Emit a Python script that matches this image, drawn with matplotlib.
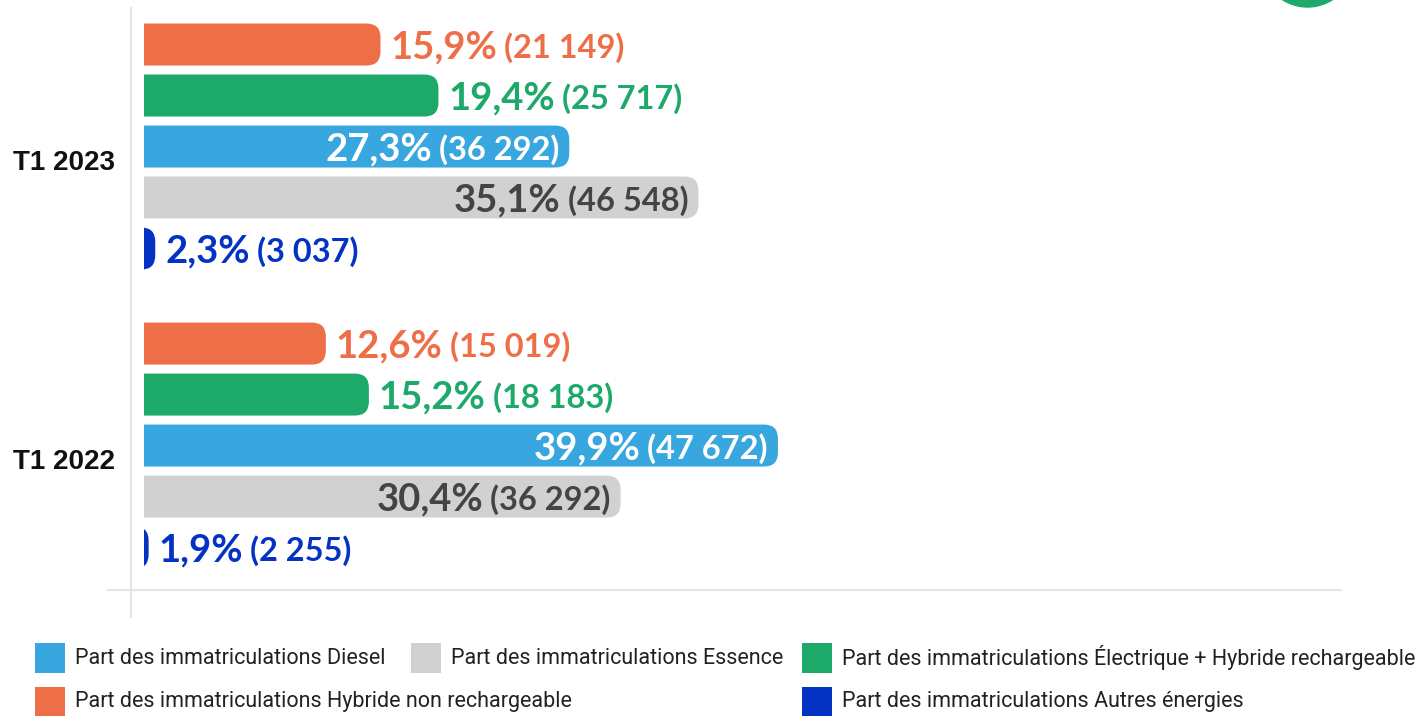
import matplotlib
matplotlib.use("Agg")
import matplotlib.pyplot as plt
import matplotlib.transforms as mtransforms
from matplotlib.patches import FancyBboxPatch, Rectangle, Circle
from matplotlib.lines import Line2D

# ---------------- data ----------------
categories = ["T1 2023", "T1 2022"]
series_names = [
    "Part des immatriculations Hybride non rechargeable",
    "Part des immatriculations Électrique + Hybride rechargeable",
    "Part des immatriculations Diesel",
    "Part des immatriculations Essence",
    "Part des immatriculations Autres énergies",
]
pct_2023 = [15.9, 19.4, 27.3, 35.1, 2.3]
count_2023 = [21149, 25717, 36292, 46548, 3037]
pct_2022 = [12.6, 15.2, 39.9, 30.4, 1.9]
count_2022 = [15019, 18183, 47672, 36292, 2255]

pcts = [pct_2023, pct_2022]
counts = [count_2023, count_2022]

# legend order (as displayed)
legend_order = [2, 3, 1, 0, 4]

# ---------------- style ----------------
bar_colors = ["#EE6F47", "#1DA96A", "#39A7DF", "#D1D1D1", "#0433C3"]
text_colors = ["#EE6F47", "#1DA96A", "#FFFFFF", "#444444", "#0433C3"]
label_inside = [False, False, True, True, False]

W, H = 1416, 716
fig = plt.figure(figsize=(W / 100, H / 100), dpi=100)
ax_left, ax_right, ax_top, ax_bottom = 144, 1340, 0, 590
ax = fig.add_axes([ax_left / W, (H - ax_bottom) / H, (ax_right - ax_left) / W, (ax_bottom - ax_top) / H])
xmin, xmax = 1.62, 73.84
ymin, ymax = -0.49, 1.483
ax.set_xlim(xmin, xmax)
ax.set_ylim(ymax, ymin)
ax.axis("off")

px_per_x = (ax_right - ax_left) / (xmax - xmin)
px_per_y = (ax_bottom - ax_top) / (ymax - ymin)
bar_h = 42 / px_per_y
step = 51 / px_per_y
radius_px = 14
rx = radius_px / px_per_x
aspect = px_per_x / px_per_y

label_font = "Lato"
pct_size = 27.5
cnt_size = 23.5

renderer = fig.canvas.get_renderer()


def place(s, x, y, dx, dy, **kw):
    tr = mtransforms.offset_copy(ax.transData, fig=fig, x=dx, y=dy, units="dots")
    return ax.text(x, y, s, transform=tr, **kw)


baseline_dy = -13.5
for g, cat in enumerate(categories):
    for i in range(len(series_names)):
        p = pcts[g][i]
        c = counts[g][i]
        yc = g + (i - 2) * step
        patch = FancyBboxPatch(
            (0, yc - bar_h / 2), p, bar_h,
            boxstyle=f"round,pad=0,rounding_size={rx}",
            mutation_aspect=aspect,
            facecolor=bar_colors[i], edgecolor="none", clip_on=True,
        )
        ax.add_patch(patch)

        pct_str = f"{p:.1f}%".replace(".", ",")
        cnt_str = "(" + f"{c:,}".replace(",", " ") + ")"
        common = dict(va="baseline", fontweight="bold", family=label_font,
                      color=text_colors[i], clip_on=False)
        if not label_inside[i]:
            t1 = place(pct_str, p, yc, 10, baseline_dy, ha="left", fontsize=pct_size, **common)
            w1 = t1.get_window_extent(renderer).width
            place(cnt_str, p, yc, 10 + w1 + 7, baseline_dy, ha="left", fontsize=cnt_size, **common)
        else:
            pad = 10
            t2 = place(cnt_str, p, yc, -pad, baseline_dy, ha="right", fontsize=cnt_size, **common)
            w2 = t2.get_window_extent(renderer).width
            place(pct_str, p, yc, -pad - w2 - 7, baseline_dy, ha="right", fontsize=pct_size, **common)

    # category label
    tr = mtransforms.blended_transform_factory(fig.transFigure, ax.transData)
    tr = tr + mtransforms.ScaledTranslation(0, -16 / 100, fig.dpi_scale_trans)
    ax.text(115 / W, g, cat, transform=tr, ha="right", va="center",
            fontsize=20, fontweight="bold", family="Liberation Sans", color="#111111",
            clip_on=False)

# axis lines
ident = mtransforms.IdentityTransform()
fig.add_artist(Line2D([131, 131], [H - 8, H - 617], transform=ident, color="#E6E6E6", lw=1.6))
fig.add_artist(Line2D([108, 1341], [H - 590, H - 590], transform=ident, color="#E6E6E6", lw=1.6))

# decorative circle top right
fig.add_artist(Circle((1307.5, H + 39.4), 46.4, transform=ident, color="#1DA96A", clip_on=False))

# legend (manual, two rows)
legend_x = [35, 411, 802, 35, 802]
legend_row = [0, 0, 0, 1, 1]
row_y = [658, 702]
sq = 30
for k, idx in enumerate(legend_order):
    x = legend_x[k]
    yc = row_y[legend_row[k]]
    fig.add_artist(Rectangle((x, H - yc - sq / 2), sq, sq, transform=ident,
                             facecolor=bar_colors[idx], edgecolor="none"))
    fig.text((x + 40) / W, (H - yc) / H, series_names[idx], ha="left", va="center",
             fontsize=15.5, family="Roboto", color="#222222")

fig.savefig("out.png", dpi=100)
